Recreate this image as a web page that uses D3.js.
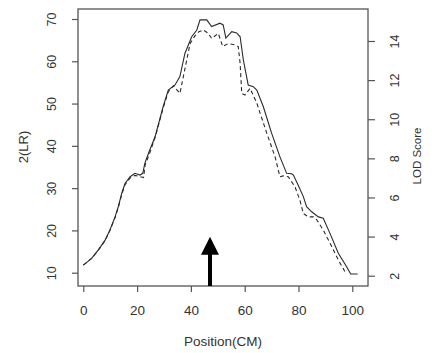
<!DOCTYPE html>
<html>
<head>
<meta charset="utf-8">
<script src="https://cdn.jsdelivr.net/npm/d3@7"></script>
<style>
  body { margin: 0; background: #fff; }
  text { font-family: "Liberation Sans", Arial, sans-serif; fill: #333; }
</style>
</head>
<body>
<script>
// Chart size
let width = 435;
let height = 353;

// Data: position (cM) and 2(LR)
let solid_pos = [0, 3.1, 5.6, 8.1, 9.9, 11.8, 13, 14.3, 15.5, 17.4, 19.2, 21.1, 22.1, 22.9, 24.2, 26.7, 29.7, 31.6, 34.1, 35.9, 37.8, 40.3, 42.2, 43.4, 45.9, 47.7, 50.8, 52, 53, 55.2, 57, 58.3, 59.5, 61.3, 63.2, 64.5, 66.9, 70, 73.1, 75.6, 77.5, 78.1, 79.9, 81.8, 83, 84.9, 87.4, 89.2, 91.7, 94.8, 97.9, 99.4, 102];
let solid_lr = [11.8, 13.4, 15.4, 17.7, 20.1, 23.2, 25.6, 28.8, 31.1, 32.7, 33.5, 33.1, 33.5, 35.9, 38.2, 42.2, 49.3, 53.2, 54.4, 56.4, 61.9, 65.8, 67.4, 69.8, 69.8, 68.2, 69, 68.6, 65.5, 67, 66.7, 65.8, 60.3, 54.4, 54, 53.2, 49.3, 43, 37.4, 33.5, 33.4, 33.1, 30.7, 28, 25.6, 24.4, 23.2, 22.9, 19.3, 14.6, 11.4, 9.7, 9.7];

let dashed_pos = [0, 3.1, 5.6, 8.1, 9.9, 11.8, 13, 14.3, 15.5, 17.4, 19.2, 21.1, 22.4, 23, 24.8, 26.7, 29.7, 31.6, 33.5, 35.9, 37.2, 39.7, 41.5, 43, 44.6, 46.5, 47.7, 50.2, 51.8, 53.9, 56.4, 57.6, 58.3, 58.9, 60.1, 62, 64.5, 68.2, 71.3, 73.1, 74.3, 76.2, 78.7, 80.5, 81.8, 83.6, 85.5, 86.8, 89.2, 91.7, 94.8, 97.3, 97.9];
let dashed_lr = [11.8, 13.4, 15.3, 17.6, 20, 23, 25.4, 28.5, 30.8, 32.4, 33, 32.7, 32.5, 35.5, 38.5, 42, 49, 52.8, 54.2, 52.4, 56.4, 64.2, 66, 67, 67.4, 66.6, 65.4, 66.6, 63.5, 64.2, 63.9, 63.5, 59.5, 52.4, 52, 53.6, 50.1, 43, 37.4, 32.7, 32.9, 32.7, 30.3, 27.2, 24, 23.2, 23.2, 22.5, 20.1, 17, 13, 10.2, 9.9];

// Arrow position (cM) and tip value
let arrow_pos = 47.1;
let arrow_tip = 18.5;

// Tick labels
let x_ticks = [0, 20, 40, 60, 80, 100];
let y_ticks = [10, 20, 30, 40, 50, 60, 70];
let lod_ticks = [2, 4, 6, 8, 10, 12, 14];

// Plot box
let box_left = 78, box_right = 368, box_top = 9, box_bottom = 286;

let svg = d3.select("body")
            .append("svg")
            .attr("width", width)
            .attr("height", height);

let x = d3.scaleLinear().domain([0, 100]).range([83.3, 352.3]);
let y = d3.scaleLinear().domain([10, 70]).range([272.7, 19]);
let y_lod = d3.scaleLinear().domain([2, 14]).range([275.7, 41]);

let axis_color = "#555";
let line_color = "#2a2a2a";

// Box
svg.append("rect")
    .attr("x", box_left)
    .attr("y", box_top)
    .attr("width", box_right - box_left)
    .attr("height", box_bottom - box_top)
    .attr("fill", "none")
    .attr("stroke", axis_color)
    .attr("stroke-width", 1.3);

// Axes
function styleAxis(g) {
    g.select(".domain").remove();
    g.selectAll(".tick line").attr("stroke", axis_color).attr("stroke-width", 1.2);
    g.selectAll(".tick text")
        .attr("fill", "#333")
        .style("font-family", "'Liberation Sans', Arial, sans-serif")
        .style("font-size", "12.5px");
}

let gx = svg.append("g")
    .attr("transform", "translate(0," + box_bottom + ")")
    .call(d3.axisBottom(x).tickValues(x_ticks).tickSize(6).tickPadding(13))
    .call(styleAxis);
gx.selectAll(".tick text").style("font-size", "13.5px");

let gy = svg.append("g")
    .attr("transform", "translate(" + box_left + ",0)")
    .call(d3.axisLeft(y).tickValues(y_ticks).tickSize(6))
    .call(styleAxis);
gy.selectAll(".tick text")
    .attr("x", 0).attr("dy", 0)
    .attr("text-anchor", "middle")
    .attr("transform", "translate(-26,0) rotate(-90)")
    .attr("dominant-baseline", "central");

let gr = svg.append("g")
    .attr("transform", "translate(" + box_right + ",0)")
    .call(d3.axisRight(y_lod).tickValues(lod_ticks).tickSize(7))
    .call(styleAxis);
gr.selectAll(".tick text")
    .attr("x", 0).attr("dy", 0)
    .attr("text-anchor", "middle")
    .attr("transform", "translate(27,0) rotate(-90)")
    .attr("dominant-baseline", "central");

// Axis titles
svg.append("text")
    .attr("x", 223)
    .attr("y", 346)
    .attr("text-anchor", "middle")
    .style("font-size", "13.5px")
    .text("Position(CM)");

svg.append("text")
    .attr("transform", "translate(23,147) rotate(-90)")
    .attr("text-anchor", "middle")
    .attr("dominant-baseline", "central")
    .style("font-size", "13px")
    .text("2(LR)");

svg.append("text")
    .attr("transform", "translate(417,156) rotate(-90)")
    .attr("text-anchor", "middle")
    .attr("dominant-baseline", "central")
    .style("font-size", "11.5px")
    .text("LOD Score");

// Curves
let line = d3.line()
    .x(d => x(d[0]))
    .y(d => y(d[1]));

svg.append("path")
    .datum(d3.zip(solid_pos, solid_lr))
    .attr("d", line)
    .attr("fill", "none")
    .attr("stroke", line_color)
    .attr("stroke-width", 1.1);

svg.append("path")
    .datum(d3.zip(dashed_pos, dashed_lr))
    .attr("d", line)
    .attr("fill", "none")
    .attr("stroke", line_color)
    .attr("stroke-width", 1.1)
    .attr("stroke-dasharray", "4,3");

// Arrow
let ax = x(arrow_pos);
let tip = y(arrow_tip);
svg.append("rect")
    .attr("x", ax - 2)
    .attr("y", tip + 16)
    .attr("width", 4)
    .attr("height", box_bottom - tip - 16)
    .attr("fill", "#000");
svg.append("path")
    .attr("d", "M" + ax + "," + tip + "L" + (ax + 9) + "," + (tip + 18) + "L" + (ax - 9) + "," + (tip + 18) + "Z")
    .attr("fill", "#000");
</script>
</body>
</html>
